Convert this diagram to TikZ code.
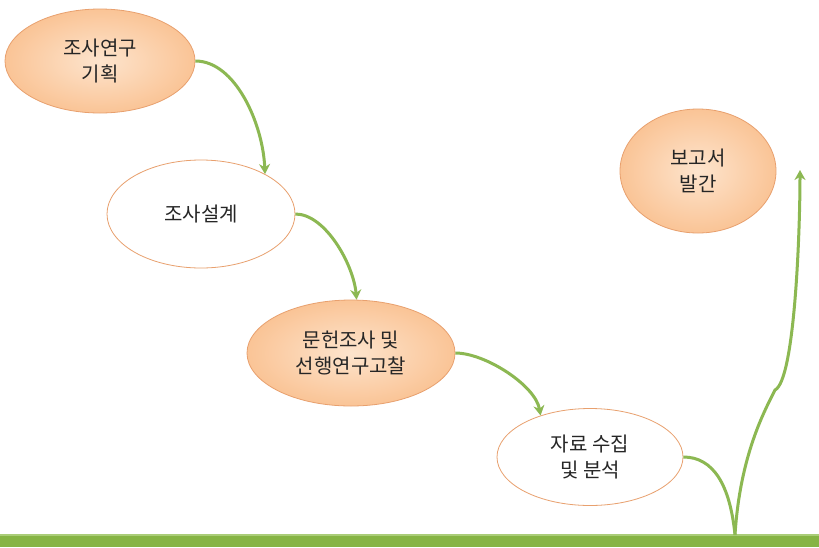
\documentclass[tikz,border=0pt]{standalone}
\usepackage{fontspec}
\newfontfamily\kr{Noto Sans CJK KR}
\usetikzlibrary{shapes.geometric,arrows.meta}
\definecolor{orfill}{RGB}{250,196,150}
\definecolor{orin}{RGB}{253,228,205}
\definecolor{orline}{RGB}{232,160,110}
\definecolor{grn}{RGB}{140,184,82}
\definecolor{bargrn}{RGB}{134,180,68}
\definecolor{bartop}{RGB}{170,205,120}
\tikzset{
  stage/.style={ellipse, draw=orline, line width=0.8pt, align=center,
    font=\kr\fontsize{20}{26}\selectfont, text=black!85, inner sep=0pt},
  filled/.style={stage, inner color=orin, outer color=orfill},
  plain/.style={stage, fill=white},
  arr/.style={draw=grn, line width=3pt, -{Stealth[length=10pt,width=11pt]}},
  lnk/.style={draw=grn, line width=3pt}
}
\begin{document}
\begin{tikzpicture}[x=1pt,y=-1pt]
\useasboundingbox (0,0) rectangle (819,547);
\fill[white] (0,0) rectangle (819,547);
\node[filled, minimum width=190pt, minimum height=104pt] (e1) at (100,61) {조사연구\\기획};
\node[plain, minimum width=188pt, minimum height=108pt] (e2) at (201,214) {조사설계};
\node[filled, minimum width=208pt, minimum height=106pt] (e3) at (351,353) {문헌조사 및\\선행연구고찰};
\node[plain, minimum width=186pt, minimum height=97pt] (e4) at (590,457) {자료 수집\\및 분석};
\node[filled, minimum width=156pt, minimum height=124pt] (e5) at (698,171) {보고서\\발간};
% bottom bar
\fill[bargrn] (0,535) rectangle (819,547);
\draw[bartop, line width=1.2pt] (0,535) -- (819,535);
\coordinate (b) at (735,535);
\coordinate (t) at (800,170);
\draw[arr] (e1.east) .. controls +(40,0) and +(-2,-50) .. (e2.32);
\draw[arr] (e2.east) .. controls +(30,0) and +(-3,-35) .. (e3.84);
\draw[arr] (e3.east) .. controls +(30,0) and +(-5,-30) .. (e4.140);
\draw[lnk] (e4.east) .. controls +(30,0) and +(-5,-50) .. (b);
\draw[arr] (b) .. controls +(5,-80) and +(-10,20) .. (775,390)
  .. controls +(20,-10) and +(0,60) .. (t);
\end{tikzpicture}
\end{document}
